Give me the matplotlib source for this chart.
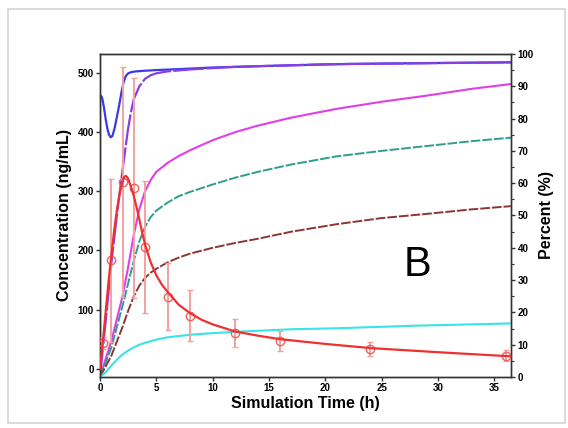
import numpy as np
import matplotlib
matplotlib.use("Agg")
import matplotlib.pyplot as plt
from matplotlib.patches import Rectangle

plt.rcParams["font.family"] = ["Liberation Sans", "DejaVu Sans"]
plt.rcParams["font.weight"] = "bold"

# observed plasma concentration (ng/mL), mean +/- sd
obs_t = [0.25, 1, 2, 3, 4, 6, 8, 12, 16, 24, 36]
obs_c = [43, 183, 316, 305, 206, 122, 90, 60, 47, 34, 22]
obs_sd = [10, 138, 194, 186, 112, 56, 43, 24, 17, 12, 9]

# simulated concentration (ng/mL)
conc_t = [0, 0.25, 0.5, 0.75, 1, 1.25, 1.5, 1.75, 2, 2.15, 2.3, 2.45, 2.6, 2.8, 3, 3.25,
          3.5, 3.75, 4, 4.5, 5, 5.5, 6, 7, 8, 9, 10, 12, 14, 16, 20, 24, 30, 36.5]
conc_c = [0, 45, 95, 145, 190, 232, 268, 297, 316, 324, 326, 323, 316, 305, 292, 273,
          252, 230, 210, 180, 158, 142, 130, 108, 94, 83, 75, 63, 56, 50, 42, 35, 28, 21]

# simulated percent curves (%)
blue_t = [0, 0, 0.1, 0.2, 0.35, 0.5, 0.65, 0.8, 0.95, 1.1, 1.3, 1.5, 1.7, 1.9, 2.1, 2.3,
          2.5, 2.8, 3.2, 4, 5, 7, 10, 15, 22, 30, 36.5]
blue_p = [0, 86.5, 87, 86.3, 83.5, 80, 77, 75, 74.2, 74.6, 77, 80.5, 84, 88, 91.3, 93.2,
          94, 94.4, 94.6, 94.8, 95, 95.3, 95.8, 96.3, 96.9, 97.2, 97.4]

purple_t = [0, 0.5, 1, 1.5, 2, 2.5, 2.75, 3, 3.5, 4, 4.5, 5, 6, 8, 12, 20, 36.5]
purple_p = [0, 17, 35, 50, 64, 77, 82, 86, 90, 92.3, 93.4, 94, 94.6, 95.2, 96, 96.8, 97.4]

magenta_t = [0, 1, 2, 2.5, 3, 3.5, 4, 4.5, 5, 6, 7, 8, 10, 12, 14, 17, 21, 25, 29, 33, 36.5]
magenta_p = [0, 11, 25, 34, 44, 52, 57.5, 61, 63.5, 66.3, 68.4, 70.2, 73.3, 75.8, 77.8,
             80.3, 83, 85.2, 87.1, 89.2, 90.7]

teal_t = [0, 1, 2, 2.5, 3, 3.5, 4, 4.5, 5, 6, 7, 8, 10, 12, 14, 17, 21, 25, 29, 33, 36.5]
teal_p = [0, 9, 22, 29, 36, 42, 46.5, 49.5, 51.5, 54, 56, 57.3, 59.6, 61.7, 63.5, 65.8,
          68.3, 70, 71.5, 73, 74.1]

brown_t = [0, 1, 2, 2.5, 3, 3.5, 4, 4.5, 5, 6, 7, 8, 10, 12, 14, 17, 21, 25, 29, 33, 36.5]
brown_p = [0, 6.5, 15.5, 20.5, 25, 28.3, 30.7, 32.3, 33.5, 35.5, 37, 38.2, 40, 41.5, 42.8,
           45, 47.3, 49.2, 50.5, 51.9, 52.9]

cyan_t = [0, 0.5, 1, 1.5, 2, 2.5, 3, 3.5, 4, 5, 6, 8, 10, 12, 17, 21, 28, 36.5]
cyan_p = [0, 1.5, 3.5, 5.4, 7, 8.2, 9.2, 10, 10.6, 11.6, 12.3, 13.1, 13.6, 14, 14.8,
          15.1, 15.9, 16.6]

fig = plt.figure(figsize=(5.68, 4.28), dpi=100)
fig.patches.append(Rectangle((8 / 568, 5 / 428), 557 / 568, 414 / 428,
                             transform=fig.transFigure, fill=False,
                             edgecolor="#d4d4d4", linewidth=1.2))

ax = fig.add_axes([0.176, 0.119, 0.724, 0.755])
ax2 = ax.twinx()
# concentration axis drawn above the percent axis
ax.set_zorder(ax2.get_zorder() + 1)
ax.patch.set_visible(False)

# percent curves on the right axis
ax2.plot(blue_t, blue_p, color="#3a3ae8", lw=1.6, zorder=3)
ax2.plot(purple_t, purple_p, color="#8a3ee0", lw=1.6, dashes=(14, 1), zorder=4)
ax2.plot(magenta_t, magenta_p, color="#e23ee6", lw=1.5, zorder=3)
ax2.plot(teal_t, teal_p, color="#2f9c90", lw=1.4, dashes=(5, 1), zorder=3)
ax2.plot(brown_t, brown_p, color="#8c3535", lw=1.4, dashes=(5, 1), zorder=3)
ax2.plot(cyan_t, cyan_p, color="#38e4e4", lw=1.5, zorder=3)

# concentration on the left axis
ax.plot(conc_t, conc_c, color="#f03030", lw=1.6, zorder=5)
ax.errorbar(obs_t, obs_c, yerr=obs_sd, fmt="o", ms=6, mfc="none",
            mec="#f06060", ecolor="#f5a0a0", elinewidth=1.4, capsize=2,
            capthick=1, zorder=4)

ax.set_xlim(0, 36.5)
ax.set_ylim(-14, 532)
ax2.set_ylim(0, 100)
ax.set_xticks(range(0, 40, 5))
ax.set_yticks(range(0, 600, 100))
ax2.set_yticks(range(0, 110, 10))
ax2.set_yticks(range(5, 100, 10), minor=True)

for a in (ax, ax2):
    for s in a.spines.values():
        s.set_color("#333333")
        s.set_linewidth(1.0)
ax.tick_params(labelsize=7, length=3, width=1, color="#333333", pad=1.5)
ax2.tick_params(labelsize=7, length=3, width=1, color="#333333", pad=1.5)
ax2.tick_params(which="minor", length=2, width=0.8, color="#333333")

ax.set_xlabel("Simulation Time (h)", fontsize=11.5, fontweight="bold", labelpad=2)
ax.set_ylabel("Concentration (ng/mL)", fontsize=11.5, fontweight="bold", labelpad=4)
ax2.set_ylabel("Percent (%)", fontsize=11.5, fontweight="bold", labelpad=4)

ax.text(28.2, 175, "B", fontsize=30, fontweight="normal", ha="center", va="center",
        family=["Liberation Sans", "DejaVu Sans"])

fig.savefig("out.png", dpi=100)
